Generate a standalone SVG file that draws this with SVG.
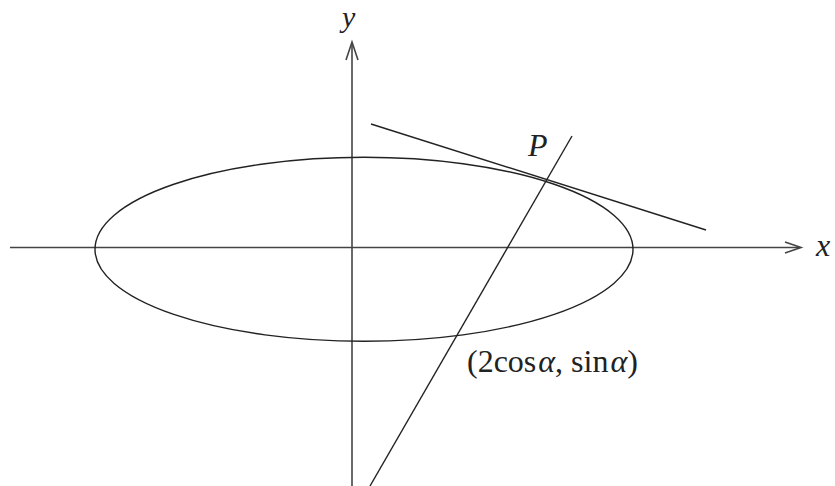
<svg xmlns="http://www.w3.org/2000/svg" width="835" height="486" viewBox="0 0 835 486">
<style>
.ln{fill:none;stroke:#222;stroke-width:1.4}
.ax{fill:none;stroke:#444;stroke-width:1.6}
.t{font-family:"Liberation Serif","Times New Roman",serif;font-size:32px;fill:#222}
.i{font-style:italic}
</style>
<rect width="835" height="486" fill="#fff"/>
<g id="axes">
<g id="x-axis">
<line class="ax" x1="10" y1="247.5" x2="800" y2="247.5"/>
<polyline class="ax" points="785,242 801,247.5 785,253"/>
<text class="t i" x="816" y="256">x</text>
</g>
<g id="y-axis">
<line class="ax" x1="352" y1="43" x2="352" y2="486"/>
<polyline class="ax" points="346,60 352,42 358,60"/>
<text class="t i" x="342" y="27" style="font-size:30px">y</text>
</g>
</g>
<g id="ellipse">
<ellipse class="ln" cx="364" cy="249.3" rx="269" ry="92"/>
</g>
<g id="connectors">
<line class="ln" x1="371" y1="124" x2="706" y2="230"/>
<line class="ln" x1="572" y1="136" x2="370" y2="486"/>
</g>
<g id="labels">
<text class="t i" x="528" y="156">P</text>
<text class="t" x="467" y="372">(2cos<tspan class="i" dx="2">α</tspan>, sin<tspan class="i" dx="2">α</tspan>)</text>
</g>
</svg>
